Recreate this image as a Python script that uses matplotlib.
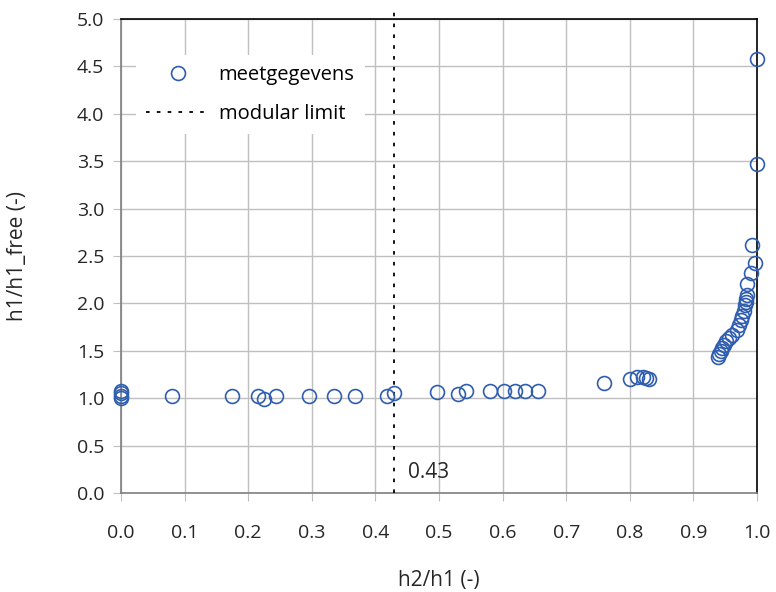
import matplotlib
matplotlib.use("Agg")
import matplotlib.pyplot as plt

plt.rcParams['font.family'] = ['Open Sans', 'DejaVu Sans']

# data: h2/h1 (x) and h1/h1_free (y)
x_vals = [0.0, 0.0, 0.0, 0.0,
          0.08, 0.175, 0.215, 0.225, 0.243, 0.295, 0.335, 0.368, 0.418, 0.43,
          0.497, 0.53, 0.543, 0.58, 0.602, 0.62, 0.635, 0.655,
          0.76, 0.80, 0.812, 0.82, 0.825, 0.83,
          0.939, 0.941, 0.943, 0.945, 0.948, 0.952, 0.956, 0.961, 0.968, 0.972,
          0.975, 0.977, 0.979, 0.981, 0.982, 0.983, 0.984, 0.985, 0.99, 0.997,
          0.992, 1.0, 1.0]
y_vals = [1.08, 1.05, 1.02, 1.0,
          1.02, 1.02, 1.02, 0.99, 1.02, 1.02, 1.02, 1.02, 1.02, 1.05,
          1.07, 1.04, 1.08, 1.08, 1.08, 1.08, 1.08, 1.08,
          1.16, 1.20, 1.22, 1.22, 1.21, 1.20,
          1.43, 1.47, 1.50, 1.53, 1.56, 1.60, 1.63, 1.67, 1.72, 1.77,
          1.82, 1.87, 1.92, 1.98, 2.02, 2.05, 2.09, 2.20, 2.32, 2.43,
          2.62, 3.47, 4.58]
modular_limit = 0.43
x_ticks = [0.0, 0.1, 0.2, 0.3, 0.4, 0.5, 0.6, 0.7, 0.8, 0.9, 1.0]
y_ticks = [0.0, 0.5, 1.0, 1.5, 2.0, 2.5, 3.0, 3.5, 4.0, 4.5, 5.0]

fig = plt.figure(figsize=(7.76, 5.92), dpi=100)
ax = fig.add_axes([121/776, 1-493/592, 636/776, 474/592])

ax.plot(x_vals, y_vals, linestyle='none', marker='o', markersize=10,
        markerfacecolor='none', markeredgecolor='#2F5DAF', markeredgewidth=1.2,
        label='meetgegevens', zorder=4, clip_on=False)
ax.plot([modular_limit, modular_limit], [0, 5.07], color='black',
        linestyle=(0, (2, 4)), linewidth=1.3, label='modular limit', zorder=3,
        clip_on=False)

ax.set_xlim(0, 1.0)
ax.set_ylim(0, 5.0)
ax.set_xticks(x_ticks)
ax.set_yticks(y_ticks)
ax.set_xticklabels([f"{t:.1f}" for t in x_ticks])
ax.set_yticklabels([f"{t:.1f}" for t in y_ticks])
ax.grid(True, color='#BFBFBF', linewidth=1.0, zorder=0)
ax.set_axisbelow(True)

for s in ['left', 'bottom']:
    ax.spines[s].set_color('#7F7F7F')
    ax.spines[s].set_linewidth(1.2)
for s in ['top', 'right']:
    ax.spines[s].set_color('black')
    ax.spines[s].set_linewidth(1.2)

fs_tick = 14
fs_lab = 15
ax.tick_params(axis='both', direction='out', length=6, color='#BFBFBF',
               labelsize=fs_tick, labelcolor='#262626')
ax.tick_params(axis='x', pad=16)
ax.tick_params(axis='y', pad=6)

ax.set_xlabel('h2/h1 (-)', fontsize=fs_lab, color='#262626')
ax.set_ylabel('h1/h1_free (-)', fontsize=fs_lab, color='#262626')
ax.xaxis.set_label_coords(0.5, -0.163)
ax.yaxis.set_label_coords(-0.147, 0.5)

ax.text(0.452, 0.22, '0.43', fontsize=fs_lab, color='#262626', va='center', ha='left')

leg = ax.legend(loc='upper left', bbox_to_anchor=(0.008, 0.945), frameon=True,
                fontsize=14.5, handlelength=3.2, handletextpad=0.4,
                labelspacing=0.95, borderpad=0.5)
leg.get_frame().set_edgecolor('none')
leg.get_frame().set_facecolor('white')
leg.get_frame().set_alpha(1.0)

fig.savefig('out.png', dpi=100)
